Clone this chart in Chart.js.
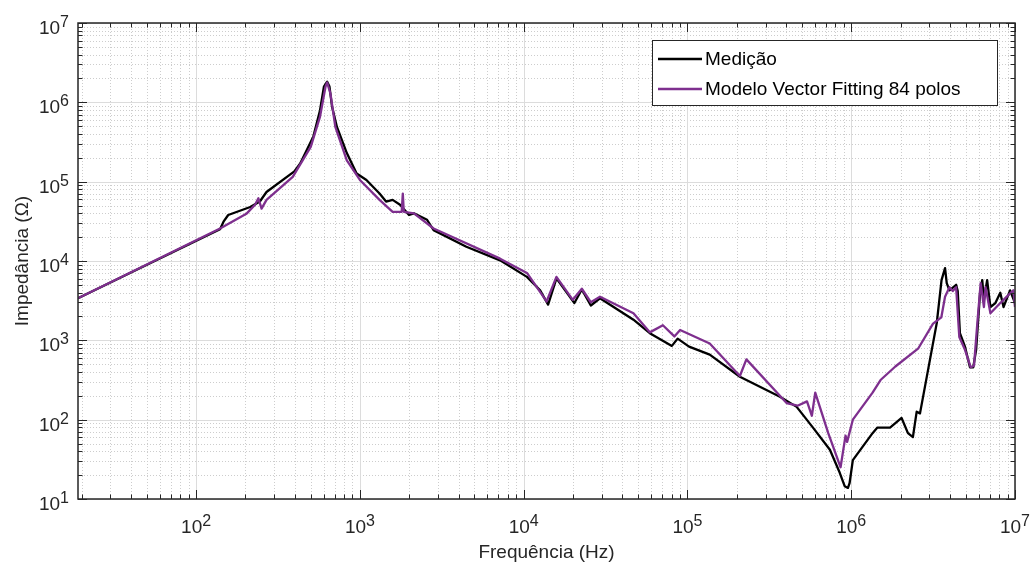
<!DOCTYPE html>
<html>
<head>
<meta charset="utf-8">
<script src="https://cdn.jsdelivr.net/npm/chart.js@4.4.1/dist/chart.umd.min.js"></script>
<style>
html,body{margin:0;padding:0;background:#fff;}
#wrap{width:1033px;height:568px;position:relative;}
</style>
</head>
<body>
<div id="wrap"><canvas id="c"></canvas></div>
<script>
// data (Hz, Ohm)
const medFreq = [19,140,147,157,214,245,269,398,432,520,571,603,631,652,676,724,832,955,1096,1318,1445,1585,1758,1995,2138,2570,2818,4467,7178,10470,12600,14100,15850,20400,22650,25700,29240,46800,58900,80350,87100,102300,136800,209000,367000,464500,589000,741000,851000,912000,955000,977000,1023000,1175000,1350000,1445000,1726000,2030000,2220000,2380000,2510000,2630000,3330000,3560000,3740000,3830000,3980000,4370000,4470000,4610000,4950000,5310000,5560000,5790000,6120000,6310000,6460000,6760000,7080000,7590000,8130000,8510000,9330000,10000000];
const medZ = [3400,25100,31300,38000,47900,56200,74100,135000,170000,372000,794000,1580000,1820000,1580000,881000,490000,229000,127000,105000,70800,56200,58900,51300,38000,39800,33100,24500,15100,10200,6310,4270,2820,6030,2950,4370,2750,3390,1820,1230,851,1050,832,661,347,195,145,77.6,41.7,21.4,14.5,13.8,15.8,30.9,45.7,67.6,79.4,79.4,105,67.6,60.3,126,120,1660,5750,8130,5250,4270,5010,4170,1230,832,457,457,759,3980,5750,3240,5750,2630,2950,3980,2630,4270,2950];
const modFreq = [19,140,204,229,240,251,269,389,501,571,617,631,661,708,832,1000,1318,1585,1800,1828,1854,2138,2818,7178,10470,13800,15850,19950,22650,25700,29240,46800,58900,70800,83200,90200,136800,209000,229000,403000,470000,537000,575000,603000,724000,861000,923000,944000,1023000,1350000,1510000,1860000,2570000,3160000,3550000,3740000,3980000,4170000,4370000,4570000,4950000,5370000,5620000,5890000,6170000,6460000,6610000,7080000,8130000,8910000,9770000,10000000];
const modZ = [3400,25700,39800,51300,61700,45700,58900,115000,275000,661000,1580000,1780000,1290000,490000,186000,105000,58900,41700,41700,70800,41700,39800,25700,10700,7080,3090,6310,3240,4470,3020,3550,2190,1260,1550,1120,1350,912,355,575,162,150,170,112,219,67.6,25.1,63,52.5,100,219,316,468,794,1620,1950,3550,4680,4170,4680,1100,759,457,479,1660,5250,2630,4680,2190,2950,3550,4270,2630];
const seriesNames = ['Medição', 'Modelo Vector Fitting 84 polos'];
const seriesColors = ['#000000', '#7E2F8E'];
const xTicks = [1e2,1e3,1e4,1e5,1e6,1e7];
const yTicks = [1e1,1e2,1e3,1e4,1e5,1e6,1e7];

const FONT = '"Liberation Sans", Arial, Helvetica, sans-serif';
const AX = '#262626';

function logValues(min, max){
	const out = [];
	for(let e = Math.floor(Math.log10(min)); e <= Math.ceil(Math.log10(max)); e++){
		for(let m = 1; m < 10; m++){
			const v = m * Math.pow(10, e);
			if(v >= min*0.9999 && v <= max*1.0001) out.push({v, major: m === 1});
		}
	}
	return out;
}

function drawPow(ctx, exp, x, yBase, align){
	ctx.font = '19px ' + FONT;
	const w1 = ctx.measureText('10').width;
	ctx.font = '16px ' + FONT;
	const w2 = ctx.measureText(String(exp)).width;
	const x0 = align === 'center' ? x - (w1 + w2)/2 : x - (w1 + w2);
	ctx.textAlign = 'left'; ctx.textBaseline = 'alphabetic';
	ctx.font = '19px ' + FONT; ctx.fillText('10', x0, yBase);
	ctx.font = '16px ' + FONT; ctx.fillText(String(exp), x0 + w1, yBase - 7);
}

const matlabAxes = {
	id: 'matlabAxes',
	beforeDatasetsDraw(chart){
		const {ctx, chartArea: a, scales: {x, y}} = chart;
		const xv = logValues(x.min, x.max), yv = logValues(y.min, y.max);
		ctx.save();
		ctx.lineWidth = 1;
		// minor grid, dotted
		ctx.setLineDash([1, 2]); ctx.strokeStyle = '#cdcdcd';
		ctx.beginPath();
		xv.filter(t => !t.major).forEach(t => { const p = Math.round(x.getPixelForValue(t.v)) + 0.5; ctx.moveTo(p, a.top); ctx.lineTo(p, a.bottom); });
		yv.filter(t => !t.major).forEach(t => { const p = Math.round(y.getPixelForValue(t.v)) + 0.5; ctx.moveTo(a.left, p); ctx.lineTo(a.right, p); });
		ctx.stroke();
		// major grid, solid
		ctx.setLineDash([]); ctx.strokeStyle = '#dcdcdc';
		ctx.beginPath();
		xv.filter(t => t.major).forEach(t => { const p = Math.round(x.getPixelForValue(t.v)) + 0.5; ctx.moveTo(p, a.top); ctx.lineTo(p, a.bottom); });
		yv.filter(t => t.major).forEach(t => { const p = Math.round(y.getPixelForValue(t.v)) + 0.5; ctx.moveTo(a.left, p); ctx.lineTo(a.right, p); });
		ctx.stroke();
		ctx.restore();
	},
	afterDatasetsDraw(chart){
		const {ctx, chartArea: a, scales: {x, y}} = chart;
		const xv = logValues(x.min, x.max), yv = logValues(y.min, y.max);
		ctx.save();
		// box
		ctx.strokeStyle = AX; ctx.lineWidth = 1.5;
		ctx.strokeRect(a.left, a.top, a.right - a.left, a.bottom - a.top);
		// inward ticks on all sides
		ctx.lineWidth = 1;
		ctx.beginPath();
		xv.forEach(t => {
			const p = Math.round(x.getPixelForValue(t.v)) + 0.5, L = t.major ? 9 : 4.5;
			ctx.moveTo(p, a.bottom); ctx.lineTo(p, a.bottom - L);
			ctx.moveTo(p, a.top); ctx.lineTo(p, a.top + L);
		});
		yv.forEach(t => {
			const p = Math.round(y.getPixelForValue(t.v)) + 0.5, L = t.major ? 9 : 4.5;
			ctx.moveTo(a.left, p); ctx.lineTo(a.left + L, p);
			ctx.moveTo(a.right, p); ctx.lineTo(a.right - L, p);
		});
		ctx.stroke();
		// tick labels 10^n
		ctx.fillStyle = AX;
		xTicks.forEach(v => drawPow(ctx, Math.round(Math.log10(v)), x.getPixelForValue(v), a.bottom + 34, 'center'));
		yTicks.forEach(v => drawPow(ctx, Math.round(Math.log10(v)), a.left - 9, y.getPixelForValue(v) + 11, 'right'));
		// legend
		const lx = 652, ly = 40, lw = 345, lh = 65;
		ctx.fillStyle = '#fff'; ctx.fillRect(lx, ly, lw, lh);
		ctx.strokeStyle = AX; ctx.lineWidth = 1;
		ctx.strokeRect(lx + 0.5, ly + 0.5, lw, lh);
		ctx.font = '19px ' + FONT; ctx.textAlign = 'left'; ctx.textBaseline = 'middle';
		[59, 89].forEach((ry, i) => {
			ctx.strokeStyle = seriesColors[i]; ctx.lineWidth = 2.3;
			ctx.beginPath(); ctx.moveTo(658, ry); ctx.lineTo(702, ry); ctx.stroke();
			ctx.fillStyle = '#000'; ctx.fillText(seriesNames[i], 705, ry + 1);
		});
		ctx.restore();
	}
};

new Chart(document.getElementById('c'), {
	type: 'line',
	data: {
		datasets: [
			{ label: seriesNames[0], data: medFreq.map((f, i) => ({x: f, y: medZ[i]})), borderColor: seriesColors[0], borderWidth: 2.3, pointRadius: 0, order: 1 },
			{ label: seriesNames[1], data: modFreq.map((f, i) => ({x: f, y: modZ[i]})), borderColor: seriesColors[1], borderWidth: 2.3, pointRadius: 0, order: 0 }
		]
	},
	options: {
		responsive: true, maintainAspectRatio: false, animation: false,
		layout: { padding: { left: 0, right: 18, top: 23, bottom: 0 } },
		plugins: { legend: { display: false }, tooltip: { enabled: false } },
		elements: { line: { tension: 0, borderJoinStyle: 'round' } },
		scales: {
			x: {
				type: 'logarithmic', min: 19, max: 1e7,
				afterFit(s){ s.height = 69; },
				afterBuildTicks(s){ s.ticks = xTicks.map(v => ({value: v})); },
				grid: { display: false }, border: { display: false }, ticks: { display: false },
				title: { display: true, text: 'Frequência (Hz)', color: AX, font: { size: 19, family: FONT }, padding: { top: 0, bottom: 4 } }
			},
			y: {
				type: 'logarithmic', min: 10, max: 1e7,
				afterFit(s){ s.width = 78; },
				afterBuildTicks(s){ s.ticks = yTicks.map(v => ({value: v})); },
				grid: { display: false }, border: { display: false }, ticks: { display: false },
				title: { display: true, text: 'Impedância (Ω)', color: AX, font: { size: 19, family: FONT }, padding: { top: 11, bottom: 0 } }
			}
		}
	},
	plugins: [matlabAxes]
});
</script>
</body>
</html>
